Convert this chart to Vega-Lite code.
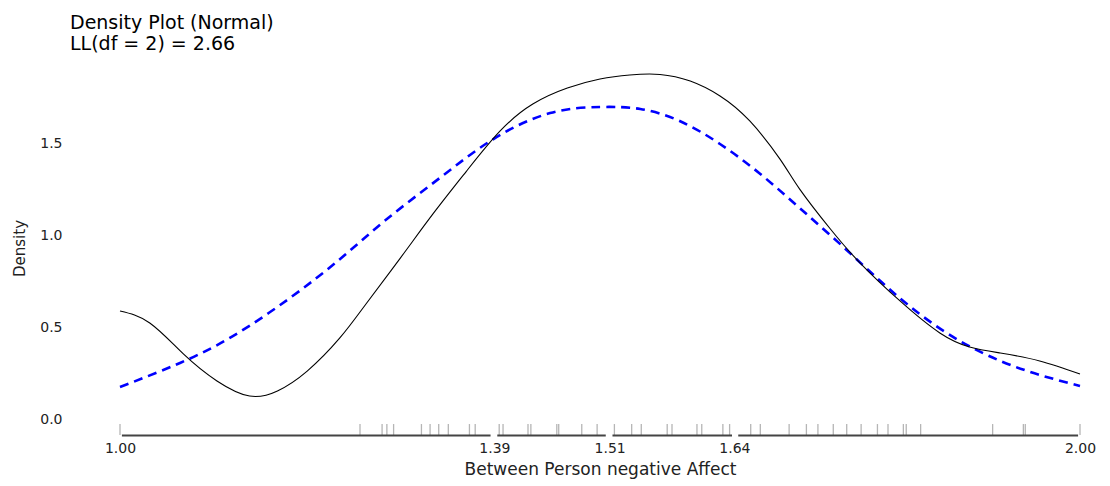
{
  "$schema": "https://vega.github.io/schema/vega-lite/v6.json",
  "autosize": "none",
  "width": 960,
  "height": 376,
  "padding": {"left": 120, "top": 60, "right": 30, "bottom": 50},
  "background": "white",
  "config": {"view": {"stroke": null}, "font": "DejaVu Sans"},
  "title": {
    "text": ["Density Plot (Normal)", "LL(df = 2) = 2.66"],
    "anchor": "start",
    "frame": "group",
    "dx": -50,
    "offset": 6,
    "font": "DejaVu Sans",
    "fontSize": 19,
    "fontWeight": "normal",
    "lineHeight": 21,
    "color": "#000000"
  },
  "datasets": {
    "kde": [
      {"x": 1.000, "d": 0.592}, {"x": 1.031, "d": 0.527}, {"x": 1.066, "d": 0.359},
      {"x": 1.101, "d": 0.212}, {"x": 1.135, "d": 0.130}, {"x": 1.164, "d": 0.158},
      {"x": 1.195, "d": 0.266}, {"x": 1.229, "d": 0.446}, {"x": 1.257, "d": 0.636},
      {"x": 1.292, "d": 0.880}, {"x": 1.326, "d": 1.120}, {"x": 1.361, "d": 1.353},
      {"x": 1.396, "d": 1.571}, {"x": 1.430, "d": 1.717}, {"x": 1.466, "d": 1.804},
      {"x": 1.500, "d": 1.853}, {"x": 1.531, "d": 1.875}, {"x": 1.5625, "d": 1.878},
      {"x": 1.594, "d": 1.842}, {"x": 1.625, "d": 1.761}, {"x": 1.656, "d": 1.625},
      {"x": 1.6875, "d": 1.418}, {"x": 1.708, "d": 1.255}, {"x": 1.740, "d": 1.038},
      {"x": 1.771, "d": 0.853}, {"x": 1.8125, "d": 0.647}, {"x": 1.854, "d": 0.473},
      {"x": 1.885, "d": 0.397}, {"x": 1.917, "d": 0.364}, {"x": 1.958, "d": 0.321},
      {"x": 2.000, "d": 0.250}
    ],
    "normal": [
      {"x": 1.000, "d": 0.179}, {"x": 1.0625, "d": 0.310}, {"x": 1.118, "d": 0.457},
      {"x": 1.177, "d": 0.663}, {"x": 1.229, "d": 0.874}, {"x": 1.278, "d": 1.092},
      {"x": 1.333, "d": 1.315}, {"x": 1.389, "d": 1.527}, {"x": 1.448, "d": 1.668},
      {"x": 1.500, "d": 1.701}, {"x": 1.542, "d": 1.690}, {"x": 1.583, "d": 1.625},
      {"x": 1.625, "d": 1.500}, {"x": 1.667, "d": 1.337}, {"x": 1.708, "d": 1.152},
      {"x": 1.750, "d": 0.957}, {"x": 1.792, "d": 0.755}, {"x": 1.833, "d": 0.576},
      {"x": 1.875, "d": 0.429}, {"x": 1.917, "d": 0.321}, {"x": 1.958, "d": 0.245},
      {"x": 2.000, "d": 0.185}
    ],
    "rug": [
      {"v": 1.000}, {"v": 1.250}, {"v": 1.273}, {"v": 1.278}, {"v": 1.285},
      {"v": 1.314}, {"v": 1.323}, {"v": 1.332}, {"v": 1.342}, {"v": 1.364},
      {"v": 1.370}, {"v": 1.395}, {"v": 1.399}, {"v": 1.425}, {"v": 1.428},
      {"v": 1.455}, {"v": 1.457}, {"v": 1.481}, {"v": 1.497}, {"v": 1.515},
      {"v": 1.533}, {"v": 1.543}, {"v": 1.570}, {"v": 1.575}, {"v": 1.601},
      {"v": 1.606}, {"v": 1.628}, {"v": 1.635}, {"v": 1.657}, {"v": 1.667},
      {"v": 1.697}, {"v": 1.715}, {"v": 1.727}, {"v": 1.743}, {"v": 1.757},
      {"v": 1.772}, {"v": 1.789}, {"v": 1.800}, {"v": 1.816}, {"v": 1.819},
      {"v": 1.834}, {"v": 1.909}, {"v": 1.941}, {"v": 1.943}, {"v": 2.000}
    ],
    "frame": [
      {"a": 1.002, "b": 1.386}, {"a": 1.393, "b": 1.506},
      {"a": 1.513, "b": 1.6375}, {"a": 1.644, "b": 1.998}
    ]
  },
  "layer": [
    {
      "data": {"name": "normal"},
      "mark": {"type": "line", "color": "#0000FF", "strokeWidth": 2.6, "strokeDash": [9, 6], "interpolate": "natural"},
      "encoding": {
        "x": {
          "field": "x", "type": "quantitative",
          "scale": {"domain": [1, 2], "nice": false, "zero": false},
          "axis": {
            "values": [1.0, 1.39, 1.51, 1.64, 2.0], "format": ".2f",
            "domain": false, "ticks": false, "grid": false,
            "labelFlush": false, "labelOverlap": false, "labelPadding": 5,
            "labelFont": "DejaVu Sans", "labelFontSize": 14, "labelColor": "#222222",
            "title": "Between Person negative Affect",
            "titleFont": "DejaVu Sans", "titleFontSize": 17, "titleFontWeight": "normal",
            "titleColor": "#222222", "titlePadding": 6
          }
        },
        "y": {
          "field": "d", "type": "quantitative",
          "scale": {"domain": [-0.087, 1.9565], "nice": false, "zero": false},
          "axis": {
            "values": [0, 0.5, 1.0, 1.5], "format": ".1f",
            "domain": false, "ticks": false, "grid": false,
            "labelPadding": 58, "labelFont": "DejaVu Sans", "labelFontSize": 14, "labelColor": "#222222",
            "title": "Density", "titleFont": "DejaVu Sans", "titleFontSize": 15,
            "titleFontWeight": "normal", "titleColor": "#222222", "titlePadding": 12
          }
        }
      }
    },
    {
      "data": {"name": "kde"},
      "mark": {"type": "line", "color": "#000000", "strokeWidth": 1.1, "interpolate": "natural"},
      "encoding": {
        "x": {"field": "x", "type": "quantitative"},
        "y": {"field": "d", "type": "quantitative"}
      }
    },
    {
      "data": {"name": "rug"},
      "mark": {"type": "rule", "color": "#b5b5b5", "strokeWidth": 1.3},
      "encoding": {
        "x": {"field": "v", "type": "quantitative"},
        "y": {"datum": -0.022},
        "y2": {"datum": -0.082}
      }
    },
    {
      "data": {"name": "frame"},
      "mark": {"type": "rule", "color": "#444444", "strokeWidth": 2},
      "encoding": {
        "x": {"field": "a", "type": "quantitative"},
        "x2": {"field": "b"},
        "y": {"datum": -0.084}
      }
    }
  ]
}
